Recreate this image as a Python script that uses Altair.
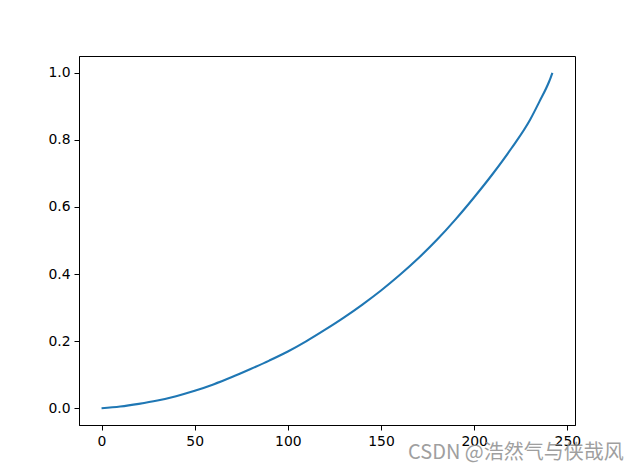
import altair as alt
import pandas as pd

xs = [0, 10, 20, 30, 40, 50, 60, 70, 80, 90, 100, 110, 120, 130, 140, 150,
      160, 170, 180, 190, 200, 210, 220, 230, 235, 240, 241, 242]
ys = [0.0, 0.005, 0.013, 0.023, 0.036, 0.052, 0.071, 0.093, 0.117, 0.142,
      0.169, 0.200, 0.234, 0.270, 0.309, 0.351, 0.397, 0.447, 0.502, 0.563,
      0.629, 0.699, 0.775, 0.860, 0.914, 0.971, 0.985, 1.0]
x_ticks = [0, 50, 100, 150, 200, 250]
y_ticks = [0.0, 0.2, 0.4, 0.6, 0.8, 1.0]
watermark = "CSDN @浩然气与侠哉风"

df = pd.DataFrame({"x": xs, "y": ys})

axis_common = dict(
    domainColor="black", domainWidth=1, tickColor="black", tickWidth=1,
    tickSize=5, labelPadding=4, labelColor="black", labelFont="DejaVu Sans",
    labelFontSize=13.9, grid=False, title=None,
)

line = alt.Chart(df).mark_line(color="#1f77b4", strokeWidth=2.1,
                               interpolate="monotone").encode(
    x=alt.X("x:Q", scale=alt.Scale(domain=[-12.1, 254.1], nice=False, zero=False),
            axis=alt.Axis(values=x_ticks, format="d", **axis_common)),
    y=alt.Y("y:Q", scale=alt.Scale(domain=[-0.05, 1.05], nice=False, zero=False),
            axis=alt.Axis(values=y_ticks, format=".1f", **axis_common)),
)

wm = alt.Chart(pd.DataFrame({"t": [watermark]})).mark_text(
    align="left", baseline="middle", fontSize=20, font="Noto Sans CJK SC",
    color="#8f8f8f", opacity=0.85,
).encode(x=alt.value(329), y=alt.value(397), text="t:N")

chart = (line + wm).properties(
    width=496, height=369,
    autosize=alt.AutoSizeParams(type="none"),
    padding={"left": 71, "top": 48, "right": 54, "bottom": 39},
    background="white",
).configure_view(stroke="black", strokeWidth=1)

chart.save("out.html", embed_options={"renderer": "svg", "actions": False})
